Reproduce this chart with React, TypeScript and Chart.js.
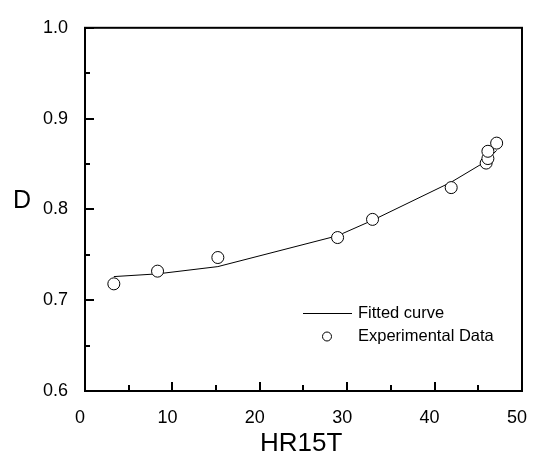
import React, { useEffect, useRef } from "react";
import { Chart, registerables } from "chart.js";

Chart.register(...registerables);

// Fitted curve values
const fitX = [3.3, 8.3, 15.2, 28.9, 32.9, 41.9, 45.9, 46.1, 47.1];
const fitY = [0.726, 0.729, 0.737, 0.771, 0.788, 0.830, 0.853, 0.855, 0.865];

// Experimental data
const expX = [3.3, 8.3, 15.2, 28.9, 32.9, 41.9, 45.9, 46.1, 46.1, 47.1];
const expY = [0.718, 0.732, 0.747, 0.769, 0.789, 0.824, 0.851, 0.856, 0.864, 0.873];

// Axes
const xMajorTicks = [0, 10, 20, 30, 40, 50];
const xMinorTicks = [5, 15, 25, 35, 45];
const yMajorTicks = [0.6, 0.7, 0.8, 0.9, 1.0];
const yMinorTicks = [0.65, 0.75, 0.85, 0.95];

const xTitle = "HR15T";
const yTitle = "D";
const legendLine = "Fitted curve";
const legendPoint = "Experimental Data";

const FONT = "'Liberation Sans', Arial, sans-serif";

const framePlugin = {
  id: "frameAndDecor",
  afterDraw(chart: any) {
    const { ctx, chartArea, scales } = chart;
    const xs = scales.x;
    const ys = scales.y;
    ctx.save();
    ctx.strokeStyle = "#000";
    // frame
    ctx.lineWidth = 2;
    ctx.strokeRect(chartArea.left, chartArea.top, chartArea.right - chartArea.left, chartArea.bottom - chartArea.top);
    // inward ticks
    ctx.lineWidth = 2;
    ctx.beginPath();
    xMajorTicks.forEach((v) => {
      const px = Math.round(xs.getPixelForValue(v));
      ctx.moveTo(px, chartArea.bottom);
      ctx.lineTo(px, chartArea.bottom - 9);
    });
    xMinorTicks.forEach((v) => {
      const px = Math.round(xs.getPixelForValue(v));
      ctx.moveTo(px, chartArea.bottom);
      ctx.lineTo(px, chartArea.bottom - 6);
    });
    yMajorTicks.forEach((v) => {
      const py = Math.round(ys.getPixelForValue(v));
      ctx.moveTo(chartArea.left, py);
      ctx.lineTo(chartArea.left + 9, py);
    });
    yMinorTicks.forEach((v) => {
      const py = Math.round(ys.getPixelForValue(v));
      ctx.moveTo(chartArea.left, py);
      ctx.lineTo(chartArea.left + 5, py);
    });
    ctx.stroke();

    // axis titles
    ctx.fillStyle = "#000";
    ctx.font = `26px ${FONT}`;
    ctx.textAlign = "left";
    ctx.textBaseline = "alphabetic";
    ctx.fillText(xTitle, 260, 451);
    ctx.font = `25px ${FONT}`;
    ctx.fillText(yTitle, 13, 208);

    // legend
    ctx.lineWidth = 1;
    ctx.beginPath();
    ctx.moveTo(303, 313.5);
    ctx.lineTo(352, 313.5);
    ctx.stroke();
    ctx.beginPath();
    ctx.arc(327, 336.5, 4.5, 0, Math.PI * 2);
    ctx.fillStyle = "#fff";
    ctx.fill();
    ctx.stroke();
    ctx.fillStyle = "#000";
    ctx.font = `16.5px ${FONT}`;
    ctx.textAlign = "left";
    ctx.textBaseline = "middle";
    ctx.fillText(legendLine, 358, 313);
    ctx.fillText(legendPoint, 358, 336);
    ctx.restore();
  },
};

export default function App() {
  const canvasRef = useRef<HTMLCanvasElement | null>(null);

  useEffect(() => {
    document.body.style.margin = "0";
    const canvas = canvasRef.current;
    if (!canvas) return;
    const chart = new Chart(canvas, {
      type: "scatter",
      data: {
        datasets: [
          {
            type: "scatter",
            label: legendPoint,
            data: expX.map((x, i) => ({ x, y: expY[i] })),
            pointStyle: "circle",
            pointRadius: 6,
            pointHoverRadius: 6,
            borderColor: "#000",
            backgroundColor: "#fff",
            borderWidth: 1,
            order: 0,
          },
          {
            type: "line",
            label: legendLine,
            data: fitX.map((x, i) => ({ x, y: fitY[i] })),
            borderColor: "#000",
            borderWidth: 1,
            pointRadius: 0,
            fill: false,
            tension: 0,
            order: 1,
          } as any,
        ],
      },
      options: {
        responsive: false,
        maintainAspectRatio: false,
        animation: false,
        events: [],
        layout: { padding: { top: 17, right: 15, left: 0, bottom: 0 } },
        plugins: {
          legend: { display: false },
          tooltip: { enabled: false },
          title: { display: false },
        },
        scales: {
          x: {
            type: "linear",
            min: 0,
            max: 50,
            ticks: {
              stepSize: 10,
              color: "#000",
              font: { family: FONT, size: 18 },
              padding: 16,
              maxRotation: 0,
              labelOffset: -5,
            },
            grid: { display: false, drawTicks: false },
            border: { display: false },
            afterFit: (s: any) => {
              s.height = 65;
            },
          },
          y: {
            type: "linear",
            min: 0.6,
            max: 1.0,
            ticks: {
              stepSize: 0.1,
              color: "#000",
              font: { family: FONT, size: 18 },
              padding: 17,
              callback: (v: any) => Number(v).toFixed(1),
            },
            grid: { display: false, drawTicks: false },
            border: { display: false },
            afterFit: (s: any) => {
              s.width = 85;
            },
          },
        },
      },
      plugins: [framePlugin],
    });
    return () => chart.destroy();
  }, []);

  return (
    <div style={{ width: 548, height: 456 }}>
      <canvas ref={canvasRef} width={548} height={456} style={{ display: "block" }} />
    </div>
  );
}
